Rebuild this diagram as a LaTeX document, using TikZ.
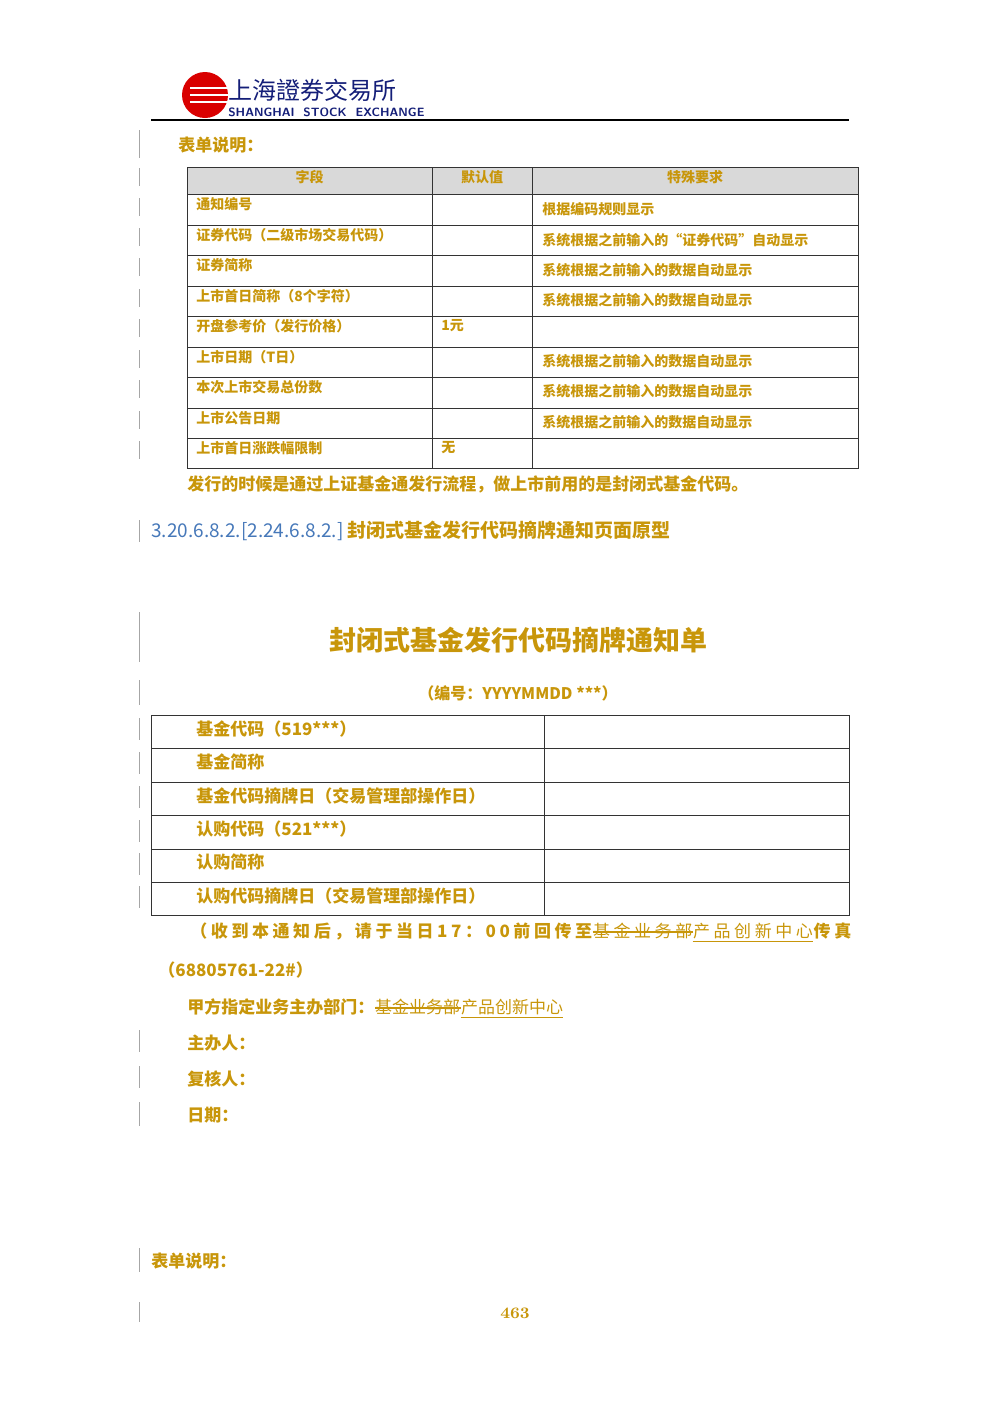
\documentclass[tikz,border=0pt]{standalone}
\usepackage{fontspec}
\newfontfamily\cjk{Noto Sans CJK SC}
\usetikzlibrary{calc}
\definecolor{gold}{RGB}{200,150,10}
\definecolor{lnk}{RGB}{70,120,185}
\definecolor{hdr}{RGB}{217,217,217}
\definecolor{navy}{RGB}{20,30,120}
\begin{document}
\begin{tikzpicture}[x=0.5pt,y=-0.5pt,
  tt/.style={font=\cjk\bfseries\fontsize{7}{8}\selectfont,text=gold,inner sep=0pt},
  bt/.style={font=\cjk\bfseries\fontsize{8.5}{10}\selectfont,text=gold,inner sep=0pt,anchor=west},
  sp/.style={font=\cjk\bfseries\fontsize{8.5}{10}\selectfont\addfontfeature{LetterSpace=21}},
  spl/.style={font=\cjk\fontsize{8.5}{10}\selectfont\addfontfeature{LetterSpace=21}},
  lt/.style={font=\cjk\fontsize{8.5}{10}\selectfont},
  grid/.style={draw=black!80,line width=0.5pt},
  strk/.style={draw=gold,line width=0.6pt},
  bar/.style={draw=black!35,line width=0.4pt}]
\useasboundingbox (0,0) rectangle (1000,1415);
% logo
\fill[red!85!black] (205,95) circle (23);
\foreach \yy in {88,95,102}{\draw[white,line width=1.2pt] (190,\yy) -- (228,\yy);}
\node[anchor=west,inner sep=0pt,font=\cjk\fontsize{12}{12}\selectfont,text=navy] (logo) at (228,90) {上海證券交易所};
\node[anchor=west,inner sep=0pt,font=\sffamily\bfseries\fontsize{6}{6}\selectfont,text=navy] (logoe) at (228,112) {SHANGHAI\ \ STOCK\ \ EXCHANGE};
\draw[line width=0.8pt] (151,120) -- (849,120);
% margin bars
\foreach \a/\b in {130/158,168/186,198/216,228/246,258/276,289/307,319/337,350/368,380/398,411/429,441/459,520/542,612/662,680/705,718/740,752/774,786/808,820/842,853/875,886/908,1030/1052,1066/1088,1102/1126,1248/1272,1302/1322}{\draw[bar] (139,\a) -- (139,\b);}
\node[bt] (sm1) at (178,145) {表单说明：};
% table 1
\fill[hdr] (187,167) rectangle (858,194);
\draw[grid] (187,167) rectangle (858,468);
\foreach \yy in {194,225,255,286,316,347,377,408,438}{\draw[grid] (187,\yy) -- (858,\yy);}
\draw[grid] (432,167) -- (432,468);
\draw[grid] (532,167) -- (532,468);
\node[tt] (h1) at (309.5,177) {字段};
\node[tt] (h2) at (482,177) {默认值};
\node[tt] (h3) at (695,177) {特殊要求};
\foreach \t/\yy in {通知编号/204,证券代码（二级市场交易代码）/235,证券简称/265,上市首日简称（8个字符）/296,开盘参考价（发行价格）/326,上市日期（T日）/357,本次上市交易总份数/387,上市公告日期/418,上市首日涨跌幅限制/448}{\node[tt,anchor=west] at (196,\yy) {\t};}
\node[tt,anchor=west] (d1) at (441,326) {1元};
\node[tt,anchor=west] (d2) at (441,448) {无};
\foreach \t/\yy in {根据编码规则显示/209,系统根据之前输入的“证券代码”自动显示/240,系统根据之前输入的数据自动显示/270,系统根据之前输入的数据自动显示/300,系统根据之前输入的数据自动显示/361,系统根据之前输入的数据自动显示/391,系统根据之前输入的数据自动显示/422}{\node[tt,anchor=west] at (542,\yy) {\t};}
\node[bt] (note) at (187,484) {发行的时候是通过上证基金通发行流程，做上市前用的是封闭式基金代码。};
\node[anchor=west,inner sep=0pt,font=\cjk\fontsize{9.5}{11}\selectfont,text=lnk] (sec) at (151,531) {3.20.6.8.2.[2.24.6.8.2.]\ \textcolor{gold}{\bfseries 封闭式基金发行代码摘牌通知页面原型}};
\node[inner sep=0pt,font=\cjk\bfseries\fontsize{13.5}{15}\selectfont,text=gold] (title) at (518,640) {封闭式基金发行代码摘牌通知单};
\node[inner sep=0pt,font=\cjk\bfseries\fontsize{8}{9}\selectfont,text=gold] (num) at (518,693) {（编号：YYYYMMDD ***）};
% table 2
\draw[grid] (151,715) rectangle (849,915);
\foreach \yy in {748,782,815,849,882}{\draw[grid] (151,\yy) -- (849,\yy);}
\draw[grid] (544,715) -- (544,915);
\foreach \t/\yy in {基金代码（519***）/729,基金简称/762,基金代码摘牌日（交易管理部操作日）/796,认购代码（521***）/829,认购简称/862,认购代码摘牌日（交易管理部操作日）/896}{\node[bt] at (196,\yy) {\t};}
\node[bt,sp] (l1) at (190,931) {（收到本通知后，请于当日17：00前回传至};
\node[bt,spl,anchor=west] (s1) at (l1.east) {基金业务部};
\draw[strk] ($(s1.west)+(0,1)$) -- ($(s1.east)+(0,1)$);
\node[bt,spl,anchor=west] (u1) at (s1.east) {产品创新中心};
\draw[strk] ($(u1.south west)+(0,2)$) -- ($(u1.south east)+(0,2)$);
\node[bt,sp,anchor=west] (f1) at (u1.east) {传真};
\node[bt] (l2) at (158,970) {（68805761-22\#）};
\node[bt] (l3) at (187,1007) {甲方指定业务主办部门：};
\node[bt,lt,anchor=west] (s2) at (l3.east) {基金业务部};
\draw[strk] ($(s2.west)+(0,1)$) -- ($(s2.east)+(0,1)$);
\node[bt,lt,anchor=west] (u2) at (s2.east) {产品创新中心};
\draw[strk] ($(u2.south west)+(0,2)$) -- ($(u2.south east)+(0,2)$);
\node[bt] (zb) at (187,1043) {主办人：};
\node[bt] (fh) at (187,1079) {复核人：};
\node[bt] (rq) at (187,1115) {日期：};
\node[bt] (sm2) at (151,1261) {表单说明：};
\node[inner sep=0pt,font=\bfseries\fontsize{8}{9}\selectfont,text=gold] (pg) at (515,1313) {463};
\end{tikzpicture}
\end{document}
